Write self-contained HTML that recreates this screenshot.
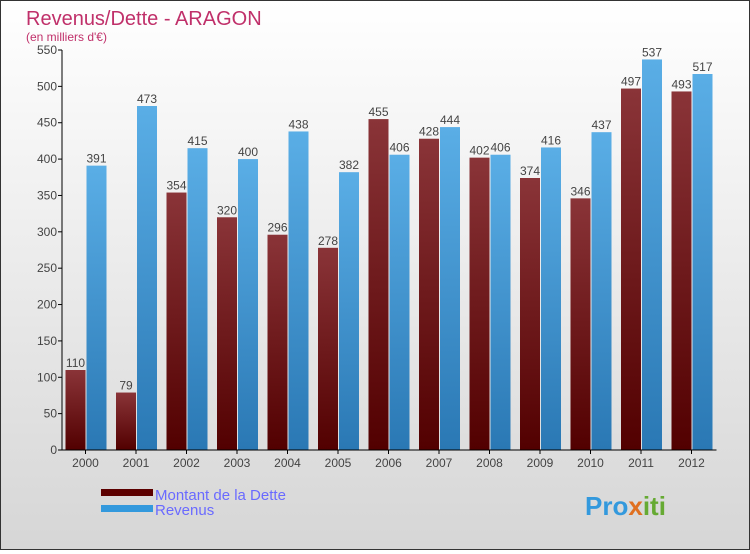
<!DOCTYPE html>
<html><head><meta charset="utf-8"><style>
html,body{margin:0;padding:0;}
body{width:750px;height:550px;overflow:hidden;font-family:"Liberation Sans",sans-serif;}
#frame{position:absolute;left:0;top:0;width:748px;height:548px;border:1px solid #333;background:linear-gradient(#ffffff,#d6d6d6);}
</style></head><body>
<div id="frame">
<svg id="chart" width="748" height="548">
<defs>
<linearGradient id="gd" x1="0" y1="0" x2="0" y2="1"><stop offset="0" stop-color="#8a3438"/><stop offset="1" stop-color="#520000"/></linearGradient>
<linearGradient id="gr" x1="0" y1="0" x2="0" y2="1"><stop offset="0" stop-color="#5aaee6"/><stop offset="1" stop-color="#2a78b4"/></linearGradient>
</defs>
<text x="25" y="24" font-size="20" fill="#c0306a">Revenus/Dette - ARAGON</text>
<text x="25" y="40" font-size="12" fill="#c0306a">(en milliers d'€)</text>
<g id="plot"></g>
<g>
<rect x="100" y="488" width="52" height="7" fill="#5c0000"/>
<text x="154" y="499" font-size="15" fill="#6a6aff">Montant de la Dette</text>
<rect x="100" y="504" width="52" height="7" fill="#3399dd"/>
<text x="154" y="514" font-size="15" fill="#6a6aff">Revenus</text>
</g>
<text x="584" y="514" font-size="26" font-weight="bold" fill="#3399dd">Pro<tspan fill="#e07020">x</tspan><tspan fill="#66aa33">iti</tspan></text>
</svg>
</div>
<script>
const years=["2000","2001","2002","2003","2004","2005","2006","2007","2008","2009","2010","2011","2012"];
const dette=[110,79,354,320,296,278,455,428,402,374,346,497,493];
const revenus=[391,473,415,400,438,382,406,444,406,416,437,537,517];
const yTicks=[0,50,100,150,200,250,300,350,400,450,500,550];
const ns="http://www.w3.org/2000/svg";
const g=document.getElementById('plot');
const y0=449,yMax=550,ph=400,x0=61,step=50.5,first=84.5,bw=20;
function Y(v){return y0-v*ph/yMax;}
function X(i){return first+i*step;}
function mk(t,a){const e=document.createElementNS(ns,t);for(const k in a)e.setAttribute(k,a[k]);g.appendChild(e);return e;}
yTicks.forEach(v=>{
 const l=mk('line',{x1:x0-4,x2:x0,y1:Y(v),y2:Y(v),stroke:'#000'});
 
 
 const t=mk('text',{x:x0-5,y:Y(v)+4,'font-size':12,fill:'#444','text-anchor':'end'});t.textContent=v;
 
 
});
years.forEach((yr,i)=>{
 const c=X(i);
 const b1=mk('rect',{x:c-bw,y:Y(dette[i]),width:bw,height:y0-Y(dette[i]),fill:'url(#gd)'});
 
 
 const b2=mk('rect',{x:c+1,y:Y(revenus[i]),width:bw,height:y0-Y(revenus[i]),fill:'url(#gr)'});
 
 
 const t1=mk('text',{x:c-bw/2,y:Y(dette[i])-3,'font-size':12,fill:'#444','text-anchor':'middle'});t1.textContent=dette[i];
 
 
 const t2=mk('text',{x:c+1+bw/2,y:Y(revenus[i])-3,'font-size':12,fill:'#444','text-anchor':'middle'});t2.textContent=revenus[i];
 
 
 const tk=mk('line',{x1:c,x2:c,y1:y0,y2:y0+4,stroke:'#000'});
 
 
 const xl=mk('text',{x:c,y:y0+17,'font-size':12,fill:'#444','text-anchor':'middle'});xl.textContent=yr;
 
 
});
const ya=mk('line',{x1:x0,x2:x0,y1:Y(550),y2:y0,stroke:'#000'});


const xa=mk('line',{x1:x0,x2:X(12)+25,y1:y0,y2:y0,stroke:'#000'});


</script>
</body></html>
